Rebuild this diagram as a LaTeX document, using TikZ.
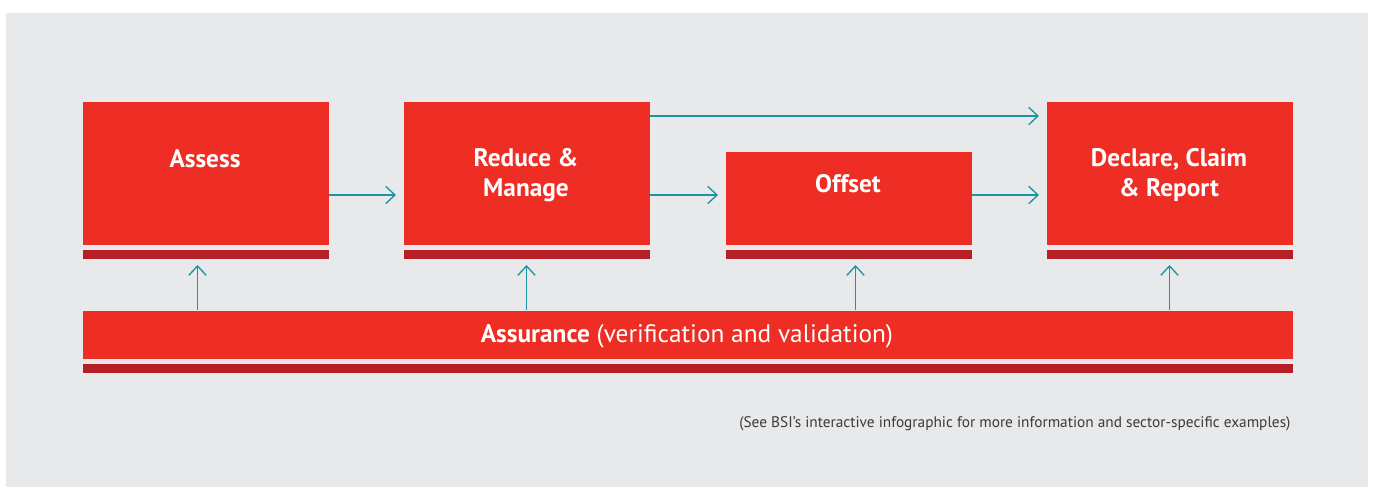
\documentclass[tikz,border=0pt]{standalone}
\usepackage{fontspec}
\setmainfont{PT Sans}
\usetikzlibrary{arrows.meta,calc}

\definecolor{bsired}{HTML}{EE2E24}
\definecolor{bsidark}{HTML}{B71F27}
\definecolor{bsigrey}{HTML}{E8E9EB}
\definecolor{bsiteal}{HTML}{1B95A0}
\definecolor{notegrey}{HTML}{3A3A3A}

\tikzset{every picture/.style={line width=0.75pt}}
\tikzset{
	stagebox/.style={fill=bsired, inner sep=0pt, anchor=north west, minimum width=184.5pt, minimum height=107.25pt},
	stagebar/.style={fill=bsidark, inner sep=0pt, anchor=north west, minimum width=184.5pt, minimum height=6.75pt},
	stagetext/.style={text=white, inner sep=0pt, anchor=base, align=center, font=\bfseries\fontsize{19}{22.5}\selectfont},
	flow/.style={draw=bsiteal, line width=1pt, -{Straight Barb[length=7pt,width=13pt]}, shorten >=5.25pt},
}

\begin{document}
\begin{tikzpicture}[x=0.75pt,y=0.75pt,yscale=-1,xscale=1]
	\useasboundingbox (0,0) rectangle (1373,487);
	
	%Background
	\fill[bsigrey] (6,13) rectangle (1368,487);
	
	%Stages
	\node[stagebox] (assess) at (82,101) {};
	\node[stagebar] (assess-bar) at (82,249) {};
	\node[stagebox] (reduce) at (403,101) {};
	\node[stagebar] (reduce-bar) at (403,249) {};
	\node[stagebox, minimum height=69.75pt] (offset) at (725,151) {};
	\node[stagebar] (offset-bar) at (725,249) {};
	\node[stagebox] (declare) at (1046,101) {};
	\node[stagebar] (declare-bar) at (1046,249) {};
	
	%Assurance
	\node[stagebox, minimum width=907.5pt, minimum height=36pt] (assure) at (82,310) {};
	\node[stagebar, minimum width=907.5pt] (assure-bar) at (82,363) {};
	
	% Text Node
	\node[stagetext] (assess-text) at (205,167) {Assess};
	% Text Node
	\node[stagetext] (reduce-text) at (526,196.7) {Reduce \&\\Manage};
	% Text Node
	\node[stagetext] (offset-text) at (848,192.7) {Offset};
	% Text Node
	\node[stagetext] (declare-text) at (1169,196.7) {Declare, Claim\\\& Report};
	% Text Node
	\node[stagetext, font=\fontsize{19}{22.5}\selectfont] (assure-text) at (687,342) {\textbf{Assurance} (verification and validation)};
	% Text Node
	\node[text=notegrey, inner sep=0pt, anchor=base east, font=\fontsize{11.5}{13}\selectfont] (note) at (1291,427) {(See BSI’s interactive infographic for more information and sector-specific examples)};
	
	%Arrows along the stages
	\coordinate (midlvl) at ($(reduce.east)+(0,22)$);
	\coordinate (toplvl) at ($(reduce.north east)+(0,15)$);
	\draw[flow] ($(assess.east)+(0,22)$) -- ($(reduce.west)+(0,22)$);
	\draw[flow] (midlvl) -- (midlvl -| offset.west);
	\draw[flow] (midlvl -| offset.east) -- (midlvl -| declare.west);
	\draw[flow] (toplvl) -- (toplvl -| declare.west);
	
	%Arrows up from assurance
	\foreach \s/\dx in {assess/-8, reduce/0, offset/7, declare/0}{
		\coordinate (up-\s) at ($(\s-bar.south)+(\dx,0)$);
		\draw[flow, shorten >=4.5pt] (up-\s |- assure.north) -- (up-\s);
	}
	
\end{tikzpicture}
\end{document}
